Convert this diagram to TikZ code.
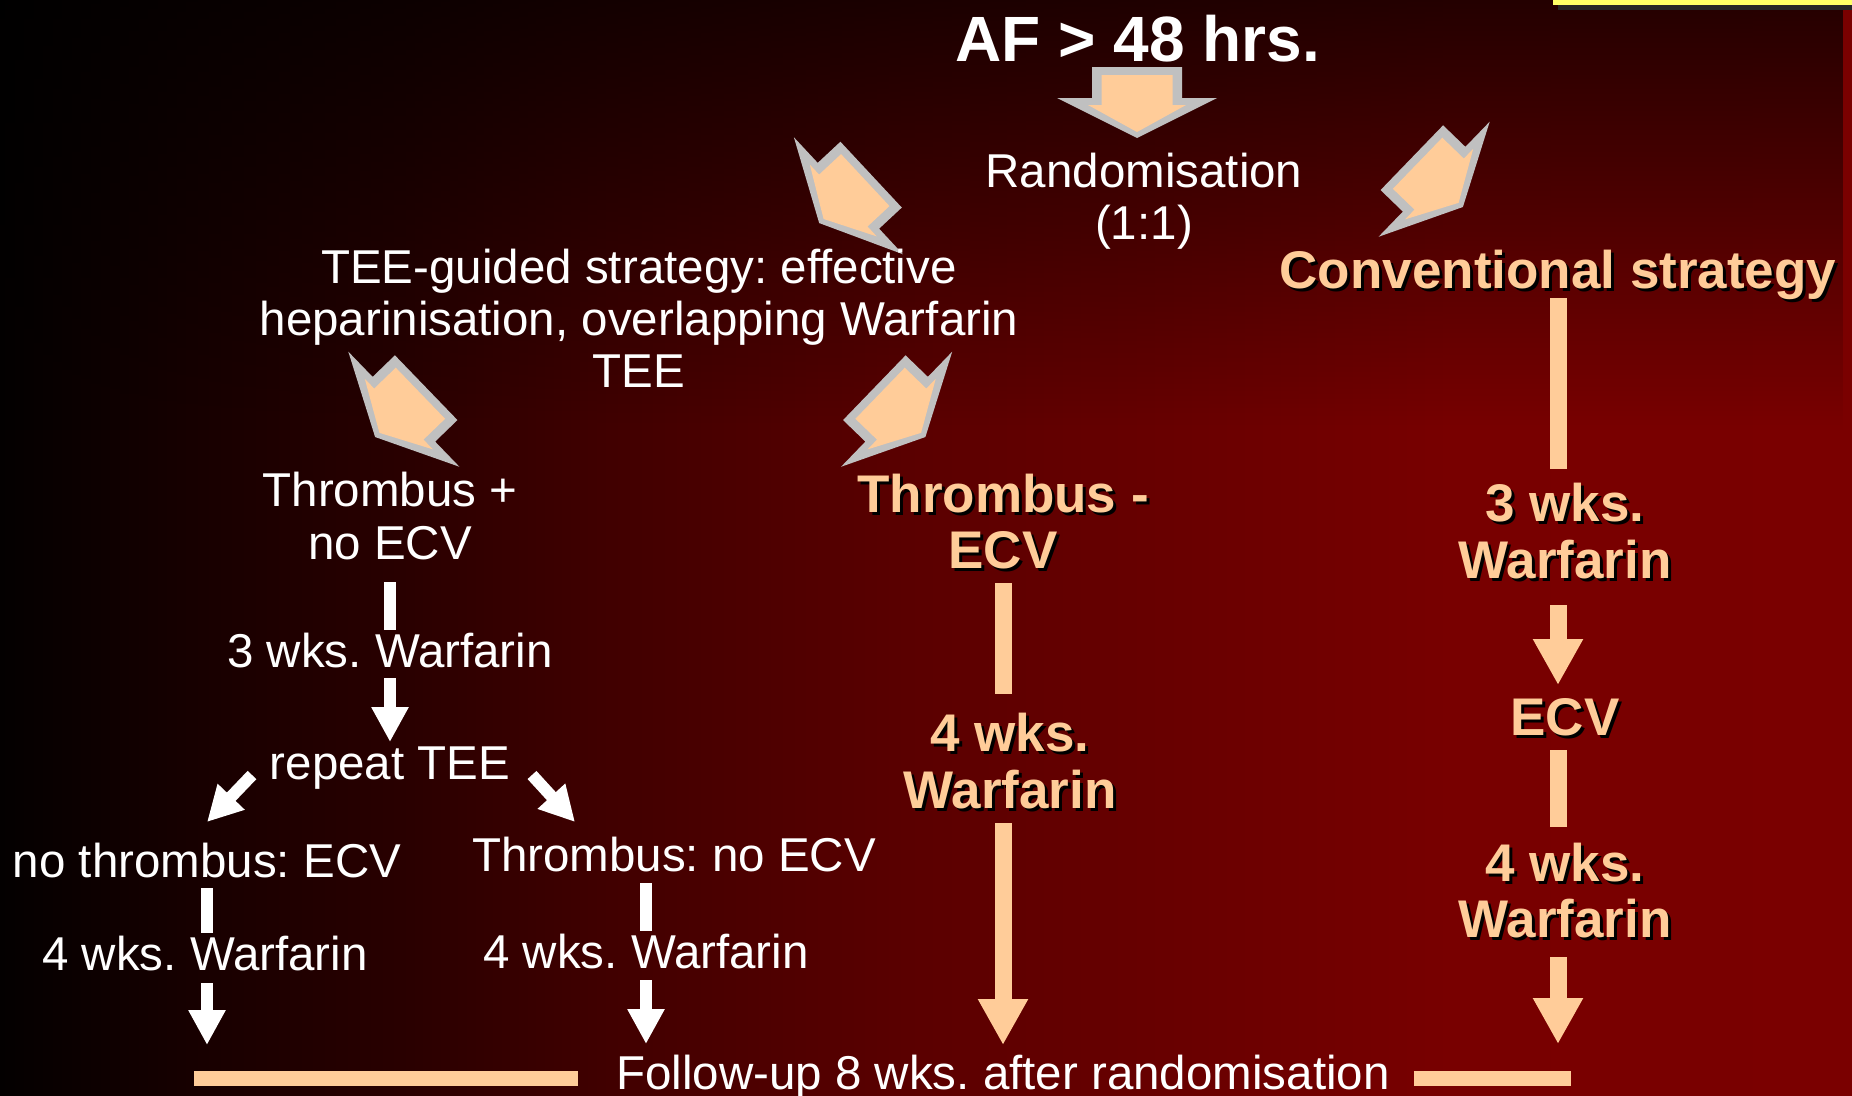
\documentclass[tikz,border=0pt]{standalone}
\usepackage{fontspec}
\setmainfont{Liberation Sans}
\usetikzlibrary{arrows.meta,calc,fadings}
\frenchspacing
\definecolor{peach}{HTML}{FFCC99}
\definecolor{agray}{HTML}{C0C0C0}
\definecolor{ylw}{HTML}{FFFF66}
\definecolor{bga}{HTML}{030000}
\definecolor{bgb}{HTML}{160000}
\definecolor{bgc}{HTML}{2A0000}
\definecolor{bgd}{HTML}{400000}
\definecolor{bge}{HTML}{5A0000}
\definecolor{bgf}{HTML}{6A0000}
\definecolor{bgg}{HTML}{780000}
\definecolor{bgh}{HTML}{7A0000}
\tikzfading[name=topdark, top color=transparent!30, bottom color=transparent!100]
\newcommand\myBlockArrow{%
  \fill[agray] (-45,-35) -- (45,-35) -- (45,-4) -- (80,-4) -- (0,36) -- (-80,-4) -- (-45,-4) -- cycle;
  \fill[peach] (-35.5,-27) -- (35.5,-27) -- (35.5,3) -- (49,3) -- (0,30) -- (-49,3) -- (-35.5,3) -- cycle;}
\tikzset{
  wt/.style={text=white, font=\fontsize{47.5}{52}\selectfont, inner sep=0pt, anchor=base},
  pk/.style={text=peach, font=\bfseries\fontsize{53}{58}\selectfont, inner sep=0pt, anchor=base},
  pksh/.style={text=black, font=\bfseries\fontsize{53}{58}\selectfont, inner sep=0pt, anchor=base, xshift=3pt, yshift=-3pt},
  wline/.style={white, line width=12pt},
  warr/.style={white, line width=12pt, -{Triangle[width=35pt,length=35pt]}},
  pline/.style={peach, line width=17pt},
  parr/.style={peach, line width=17pt, -{Triangle[width=47pt,length=46pt]}},
  fbar/.style={peach, line width=15pt},
}
\newcommand\pktext[3]{\node[pksh] at (#2) {#3}; \node[pk] (#1) at (#2) {#3};}
\begin{document}
\begin{tikzpicture}[x=1pt,y=-1pt]
\useasboundingbox (0,0) rectangle (1852,1095);
% background
\fill[black] (0,0) rectangle (1852,1095);
\shade[left color=bga, right color=bgb] (0,0) rectangle (181,1095);
\shade[left color=bgb, right color=bgc] (180,0) rectangle (411,1095);
\shade[left color=bgc, right color=bgd] (410,0) rectangle (601,1095);
\shade[left color=bgd, right color=bge] (600,0) rectangle (906,1095);
\shade[left color=bge, right color=bgf] (905,0) rectangle (1201,1095);
\shade[left color=bgf, right color=bgg] (1200,0) rectangle (1451,1095);
\shade[left color=bgg, right color=bgh] (1450,0) rectangle (1852,1095);
\fill[black, path fading=topdark] (0,0) rectangle (1852,430);
% yellow line top right
\fill[black!85] (1558,5) rectangle (1852,10);
\fill[ylw] (1553,0) rectangle (1852,5);

% block arrows
\begin{scope}[shift={(1137,102)}]\myBlockArrow\end{scope}
\begin{scope}[shift={(845.5,198.5)},rotate=-47]\myBlockArrow\end{scope}
\begin{scope}[shift={(1437,182)},rotate=46]\myBlockArrow\end{scope}
\begin{scope}[shift={(401,412)},rotate=-46]\myBlockArrow\end{scope}
\begin{scope}[shift={(899.5,412)},rotate=46]\myBlockArrow\end{scope}

% texts
\node[text=white, font=\bfseries\fontsize{64}{70}\selectfont, inner sep=0pt, anchor=base] (af) at (1138,61) {AF > 48 hrs.};
\node[wt] (rand1) at (1144,187) {Randomisation};
\node[wt] (rand2) at (1144,239) {(1:1)};
\node[wt] (tee1) at (639,283) {TEE-guided strategy: effective};
\node[wt] (tee2) at (639,335) {heparinisation, overlapping Warfarin};
\node[wt] (tee3) at (639,387) {TEE};
\node[wt] (thr1) at (390,506) {Thrombus +};
\node[wt] (thr2) at (390,559) {no ECV};
\node[wt] (w3l) at (390,667) {3 wks. Warfarin};
\node[wt] (rep) at (390,779) {repeat TEE};
\node[wt] (noth) at (207,877) {no thrombus: ECV};
\node[wt] (thno) at (674,871) {Thrombus: no ECV};
\node[wt] (w4a) at (205,970) {4 wks. Warfarin};
\node[wt] (w4b) at (646,968) {4 wks. Warfarin};
\node[wt] (follow) at (1003,1089) {Follow-up 8 wks. after randomisation};

\pktext{thm1}{1003,512}{Thrombus -}
\pktext{thm2}{1003,568}{ECV}
\pktext{m4a}{1010,751}{4 wks.}
\pktext{m4b}{1010,808}{Warfarin}
\pktext{conv}{1558,288}{Conventional strategy}
\pktext{r3a}{1565,521}{3 wks.}
\pktext{r3b}{1565,578}{Warfarin}
\pktext{recv}{1565,735}{ECV}
\pktext{r4a}{1565,881}{4 wks.}
\pktext{r4b}{1565,937}{Warfarin}

% white connectors
\draw[wline] ($(thr2.base)+(0,23)$) -- ($(w3l.base)+(0,-37)$);
\draw[warr] ($(w3l.base)+(0,11)$) -- ($(rep.base)+(0,-37)$);
\draw[warr] ($(rep.base)+(-138,-4)$) -- ($(noth.base)+(0,-55)$);
\draw[warr] ($(rep.base)+(142,-4)$) -- ($(thno.base)+(-99,-49)$);
\draw[wline] ($(noth.base)+(0,11)$) -- ($(noth.base |- w4a.base)+(0,-37)$);
\draw[warr] ($(noth.base |- w4a.base)+(0,13)$) -- ($(noth.base |- follow.base)+(0,-44)$);
\draw[wline] ($(w4b.base |- thno.base)+(0,12)$) -- ($(w4b.base)+(0,-37)$);
\draw[warr] ($(w4b.base)+(0,12)$) -- ($(w4b.base |- follow.base)+(0,-45)$);

% peach connectors
\draw[pline] ($(thm2.base)+(0,15)$) -- ($(thm2.base |- m4a.base)+(0,-57)$);
\draw[parr] ($(thm2.base |- m4b.base)+(0,15)$) -- ($(thm2.base |- follow.base)+(0,-44)$);
\draw[pline] ($(conv.base)+(0,10)$) -- ($(conv.base |- r3a.base)+(0,-52)$);
\draw[parr] ($(conv.base |- r3b.base)+(0,27)$) -- ($(conv.base |- recv.base)+(0,-50)$);
\draw[pline] ($(conv.base |- recv.base)+(0,15)$) -- ($(conv.base |- r4a.base)+(0,-54)$);
\draw[parr] ($(conv.base |- r4b.base)+(0,20)$) -- ($(conv.base |- follow.base)+(0,-45)$);

% follow-up bars
\draw[fbar] ($(follow.base west)+(-422,-10.5)$) -- ($(follow.base west)+(-38,-10.5)$);
\draw[fbar] ($(follow.base east)+(24,-10.5)$) -- ($(follow.base east)+(181,-10.5)$);
\end{tikzpicture}
\end{document}
